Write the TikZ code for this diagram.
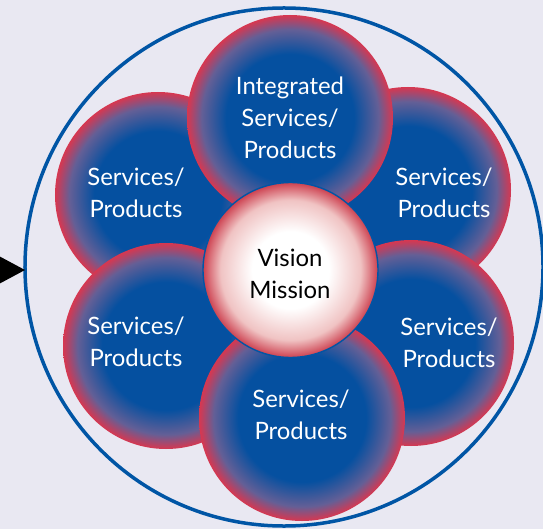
\documentclass[tikz,border=0pt]{standalone}
\usepackage{fontspec}
\setmainfont{Lato}
\definecolor{bgcol}{RGB}{233,232,242}
\definecolor{ringblue}{RGB}{0,85,165}
\definecolor{pblue}{RGB}{5,80,160}
\definecolor{pmid}{RGB}{100,95,150}
\definecolor{pred}{RGB}{215,55,80}
\definecolor{cwhite}{RGB}{255,255,255}
\definecolor{cpink}{RGB}{240,195,195}
\definecolor{cred}{RGB}{205,65,80}
\pgfdeclareradialshading{petalshade}{\pgfpoint{0bp}{0bp}}{color(0bp)=(pblue); color(15.5bp)=(pblue); color(21.5bp)=(pmid); color(25bp)=(pred); color(50bp)=(pred)}
\pgfdeclareradialshading{coreshade}{\pgfpoint{0bp}{0bp}}{color(0bp)=(cwhite); color(11bp)=(cwhite); color(20bp)=(cpink); color(25bp)=(cred); color(50bp)=(cred)}
\tikzset{
  petal/.style={circle, minimum size=206bp, inner sep=0pt, shading=petalshade},
  core/.style={circle, minimum size=175bp, inner sep=0pt, shading=coreshade, draw=ringblue, line width=1.4bp},
  ptext/.style={align=center, text=white, font=\fontsize{24}{32}\selectfont},
  ctext/.style={align=center, text=black, font=\fontsize{24}{32}\selectfont},
  ring/.style={draw=ringblue, line width=3.5bp},
}
\begin{document}
\begin{tikzpicture}[x=1bp,y=-1bp]
\fill[bgcol] (0,0) rectangle (543,529);
\useasboundingbox (0,0) rectangle (543,529);
\begin{scope}
\clip (0,0) rectangle (543,529);
\node[circle, minimum size=518bp, inner sep=0pt, ring] (outer) at (284,267) {};
\fill[black] (25,270) -- (-3,255) -- (-3,285) -- cycle;
\end{scope}
\coordinate (tip) at (25,270);
\node[petal] (pul) at (158,195) {};
\node[petal] (pur) at (408,190) {};
\node[petal] (ptop) at (290,118) {};
\node[petal] (pll) at (166,346) {};
\node[petal] (plr) at (411,343) {};
\node[petal] (pbot) at (302,418) {};
\node[core] (center) at (290.5,270) {};
\node[ptext] (tul) at (136,193) {Services/\\Products};
\node[ptext] (tur) at (444,193) {Services/\\Products};
\node[ptext] (ttop) at (290,118) {Integrated\\Services/\\Products};
\node[ptext] (tll) at (136,342) {Services/\\Products};
\node[ptext] (tlr) at (449,343) {Services/\\Products};
\node[ptext] (tbot) at (301,415) {Services/\\Products};
\node[ctext] (tcenter) at (290,274) {Vision\\Mission};
\end{tikzpicture}
\end{document}
